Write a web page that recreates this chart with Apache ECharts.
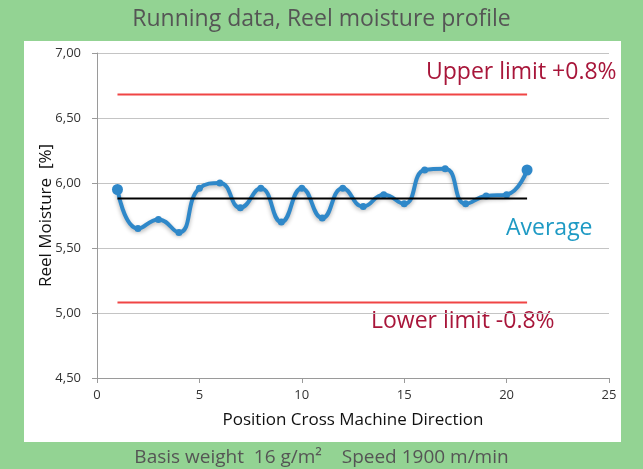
<!DOCTYPE html>
<html>
<head>
<meta charset="utf-8">
<script src="https://cdn.jsdelivr.net/npm/echarts@6/dist/echarts.min.js"></script>
<style>
  html, body { margin: 0; padding: 0; background: #93d393; }
  #chart { width: 643px; height: 469px; }
</style>
</head>
<body>
<div id="chart"></div>
<script>
// data
const positions = [1, 2, 3, 4, 5, 6, 7, 8, 9, 10, 11, 12, 13, 14, 15, 16, 17, 18, 19, 20, 21];
const moisture = [5.95, 5.65, 5.72, 5.62, 5.96, 6.0, 5.81, 5.96, 5.7, 5.96, 5.73, 5.96, 5.82, 5.91, 5.84, 6.1, 6.11, 5.84, 5.9, 5.91, 6.1];
const average = 5.88;
const upperLimit = 6.68;
const lowerLimit = 5.08;
const limitSpan = [1, 21];

const FONT = "'Open Sans', 'Noto Sans', sans-serif";

const chart = echarts.init(document.getElementById("chart"));

const flatLine = (val) => limitSpan.map((x) => [x, val]);

chart.setOption({
  backgroundColor: "#93d393",
  animation: false,
  textStyle: { fontFamily: FONT },
  grid: { left: 97, right: 34, top: 53, bottom: 91 },
  graphic: [
    {
      type: "rect",
      z: -10,
      shape: { x: 24, y: 41, width: 597, height: 401 },
      style: { fill: "#ffffff" },
    },
    {
      type: "text",
      left: "center",
      top: 8,
      style: { text: "Running data, Reel moisture profile", fill: "#555555", font: `23px ${FONT}` },
    },
    {
      type: "text",
      left: "center",
      top: 448,
      style: { text: "Basis weight  16 g/m\u00b2    Speed 1900 m/min", fill: "#555555", font: `19px ${FONT}` },
    },
    {
      type: "text",
      left: 426,
      top: 61,
      style: { text: "Upper limit +0.8%", fill: "#a8163a", font: `23px ${FONT}` },
    },
    {
      type: "text",
      left: 371,
      top: 310,
      style: { text: "Lower limit -0.8%", fill: "#a8163a", font: `23px ${FONT}` },
    },
    {
      type: "text",
      left: 506,
      top: 217,
      style: { text: "Average", fill: "#1e9ac4", font: `23px ${FONT}` },
    },
  ],
  xAxis: {
    type: "value",
    min: 0,
    max: 25,
    interval: 5,
    name: "Position Cross Machine Direction",
    nameLocation: "middle",
    nameGap: 34,
    nameMoveOverlap: false,
    nameTextStyle: { fontSize: 17, color: "#111" },
    axisLine: { lineStyle: { color: "#9a9a9a" } },
    axisTick: { lineStyle: { color: "#9a9a9a" }, length: 5 },
    axisLabel: { color: "#333", fontSize: 13, margin: 11 },
    splitLine: { show: false },
  },
  yAxis: {
    type: "value",
    min: 4.5,
    max: 7,
    interval: 0.5,
    name: "Reel Moisture  [%]",
    nameLocation: "middle",
    nameGap: 42,
    nameMoveOverlap: false,
    nameTextStyle: { fontSize: 17, color: "#111" },
    axisLine: { show: true, lineStyle: { color: "#9a9a9a" } },
    axisTick: { show: true, lineStyle: { color: "#9a9a9a" }, length: 5 },
    axisLabel: {
      color: "#333",
      fontSize: 13,
      margin: 16,
      formatter: (v) => v.toFixed(2).replace(".", ","),
    },
    splitLine: { lineStyle: { color: "#c4c4c4" } },
  },
  series: [
    {
      type: "line",
      data: flatLine(upperLimit),
      symbol: "none",
      lineStyle: { color: "#f04545", width: 2 },
      z: 2,
    },
    {
      type: "line",
      data: flatLine(lowerLimit),
      symbol: "none",
      lineStyle: { color: "#f04545", width: 2 },
      z: 2,
    },
    {
      type: "line",
      data: flatLine(average),
      symbol: "none",
      lineStyle: { color: "#000000", width: 2 },
      z: 4,
    },
    {
      type: "line",
      data: positions.map((x, i) => [x, moisture[i]]),
      smooth: 0.5,
      symbol: "circle",
      symbolSize: (val, p) => (p.dataIndex === 0 || p.dataIndex === positions.length - 1 ? 11 : 7),
      itemStyle: { color: "#2f88c9" },
      lineStyle: {
        color: "#2f88c9",
        width: 4,
        shadowColor: "rgba(0,0,0,0.3)",
        shadowBlur: 4,
        shadowOffsetY: 2,
      },
      z: 3,
    },
  ],
});
</script>
</body>
</html>
